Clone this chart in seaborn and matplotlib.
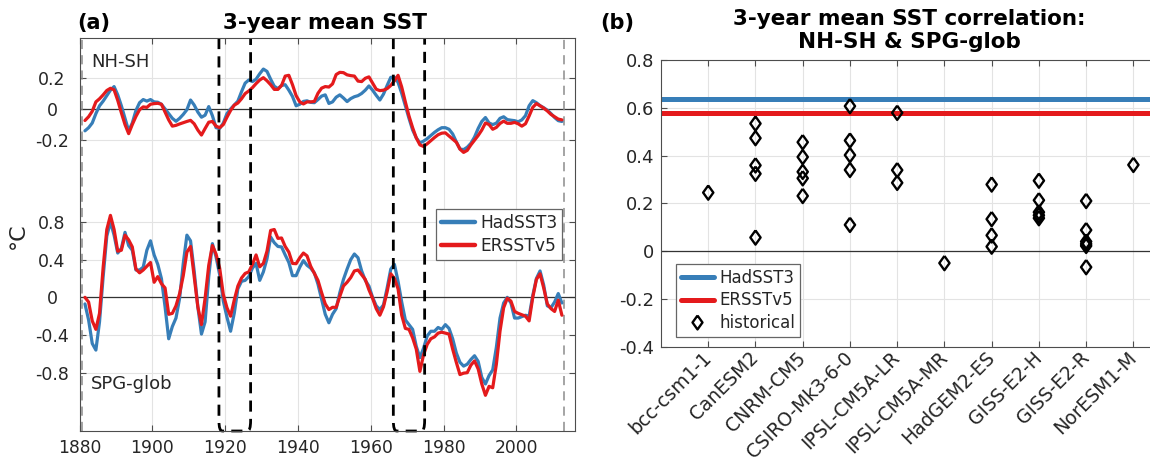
import numpy as np
import pandas as pd
import matplotlib
matplotlib.use("Agg")
import matplotlib.pyplot as plt
import seaborn as sns
from matplotlib.lines import Line2D
from matplotlib.path import Path
from matplotlib.patches import PathPatch

# ---------------- data ----------------
years = list(range(1881, 2013))  # annual (3-yr running mean), plotted at mid-year

nhsh_had = [-0.14, -0.12, -0.09, -0.03, 0.02, 0.05, 0.085, 0.12, 0.143, 0.09,
            0.02, -0.06, -0.14, -0.09, -0.01, 0.04, 0.06, 0.05, 0.06, 0.045,
            0.043, 0.03, 0.0, -0.03, -0.06, -0.079, -0.06, -0.035, -0.005, 0.057,
            0.025, -0.02, -0.053, -0.04, 0.015, -0.043, -0.12, -0.125, -0.09, -0.03,
            0.0, 0.025, 0.05, 0.11, 0.165, 0.185, 0.175, 0.19, 0.225, 0.255,
            0.24, 0.19, 0.145, 0.13, 0.15, 0.155, 0.12, 0.08, 0.02, 0.03,
            0.048, 0.052, 0.042, 0.04, 0.06, 0.082, 0.09, 0.035, 0.045, 0.075,
            0.09, 0.07, 0.047, 0.066, 0.078, 0.085, 0.099, 0.12, 0.147, 0.12,
            0.087, 0.057, 0.095, 0.15, 0.202, 0.202, 0.17, 0.10, 0.02, -0.06,
            -0.135, -0.185, -0.217, -0.206, -0.19, -0.17, -0.15, -0.133, -0.12, -0.12,
            -0.13, -0.16, -0.21, -0.256, -0.26, -0.245, -0.22, -0.18, -0.125, -0.08,
            -0.055, -0.09, -0.10, -0.091, -0.06, -0.05, -0.068, -0.072, -0.075, -0.082,
            -0.07, -0.043, 0.02, 0.053, 0.04, 0.021, 0.008, -0.008, -0.03, -0.055,
            -0.075, -0.08]

nhsh_ers = [-0.074, -0.05, -0.015, 0.045, 0.065, 0.09, 0.118, 0.132, 0.122, 0.055,
            -0.025, -0.10, -0.158, -0.10, -0.048, -0.005, 0.013, 0.01, 0.03, 0.034,
            0.036, 0.03, -0.02, -0.07, -0.11, -0.105, -0.096, -0.088, -0.08, -0.073,
            -0.095, -0.135, -0.167, -0.125, -0.085, -0.08, -0.11, -0.12, -0.10, -0.053,
            -0.01, 0.024, 0.038, 0.065, 0.098, 0.115, 0.136, 0.162, 0.185, 0.20,
            0.18, 0.155, 0.125, 0.125, 0.15, 0.21, 0.215, 0.155, 0.085, 0.045,
            0.032, 0.045, 0.045, 0.048, 0.10, 0.133, 0.143, 0.14, 0.16, 0.22,
            0.234, 0.232, 0.218, 0.213, 0.21, 0.178, 0.175, 0.196, 0.205, 0.165,
            0.126, 0.117, 0.12, 0.13, 0.15, 0.18, 0.215, 0.14, 0.045, -0.045,
            -0.12, -0.185, -0.23, -0.24, -0.223, -0.203, -0.183, -0.165, -0.155, -0.153,
            -0.173, -0.193, -0.213, -0.257, -0.278, -0.265, -0.23, -0.20, -0.17, -0.135,
            -0.09, -0.10, -0.13, -0.118, -0.093, -0.078, -0.092, -0.092, -0.086, -0.095,
            -0.11, -0.095, -0.045, 0.01, 0.034, 0.02, 0.005, -0.013, -0.035, -0.05,
            -0.065, -0.07]

spg_had = [-0.07, -0.24, -0.49, -0.56, -0.26, 0.22, 0.65, 0.80, 0.66, 0.47,
           0.52, 0.69, 0.55, 0.50, 0.29, 0.29, 0.32, 0.50, 0.60, 0.45,
           0.35, 0.20, -0.10, -0.44, -0.31, -0.22, -0.01, 0.36, 0.66, 0.60,
           0.28, -0.10, -0.39, -0.26, 0.22, 0.57, 0.43, 0.24, -0.04, -0.21,
           -0.36, -0.17, 0.09, 0.17, 0.18, 0.22, 0.31, 0.36, 0.18, 0.27,
           0.41, 0.64, 0.58, 0.54, 0.535, 0.45, 0.37, 0.23, 0.23, 0.32,
           0.39, 0.34, 0.31, 0.26, 0.14, -0.02, -0.18, -0.27, -0.18, -0.12,
           0.05, 0.19, 0.30, 0.40, 0.46, 0.42, 0.28, 0.18, 0.12, 0.0,
           -0.09, -0.13, -0.08, 0.10, 0.30, 0.35, 0.17, -0.05, -0.24, -0.29,
           -0.34, -0.52, -0.64, -0.54, -0.41, -0.36, -0.36, -0.32, -0.34, -0.29,
           -0.33, -0.44, -0.59, -0.69, -0.73, -0.71, -0.66, -0.62, -0.68, -0.85,
           -0.92, -0.83, -0.77, -0.53, -0.22, -0.06, 0.0, -0.06, -0.22, -0.22,
           -0.205, -0.19, -0.20, 0.02, 0.20, 0.28, 0.13, -0.09, -0.11, -0.05,
           0.04, -0.06]

spg_ers = [0.0, -0.05, -0.25, -0.34, -0.17, 0.32, 0.72, 0.87, 0.72, 0.49,
           0.50, 0.66, 0.61, 0.535, 0.30, 0.26, 0.29, 0.33, 0.37, 0.16,
           0.22, 0.145, 0.10, -0.18, -0.17, -0.09, 0.04, 0.23, 0.48, 0.54,
           0.22, -0.10, -0.29, -0.01, 0.34, 0.55, 0.46, 0.31, 0.03, -0.11,
           -0.20, -0.03, 0.12, 0.205, 0.254, 0.27, 0.35, 0.45, 0.324, 0.36,
           0.49, 0.71, 0.72, 0.626, 0.63, 0.54, 0.48, 0.36, 0.357, 0.42,
           0.47, 0.44, 0.33, 0.255, 0.18, 0.05, -0.07, -0.13, -0.106, -0.106,
           0.01, 0.12, 0.16, 0.21, 0.28, 0.29, 0.24, 0.19, 0.08, -0.01,
           -0.12, -0.19, -0.10, 0.06, 0.25, 0.20, 0.09, -0.19, -0.33, -0.34,
           -0.43, -0.55, -0.786, -0.61, -0.50, -0.44, -0.42, -0.38, -0.37, -0.38,
           -0.39, -0.55, -0.69, -0.82, -0.805, -0.80, -0.72, -0.675, -0.76, -0.92,
           -1.04, -0.945, -0.96, -0.71, -0.36, -0.11, -0.01, -0.04, -0.15, -0.17,
           -0.185, -0.20, -0.25, 0.0, 0.19, 0.25, 0.10, -0.07, -0.12, -0.15,
           -0.03, -0.19]

nhsh_tick_values = [0.2, 0.0, -0.2]
spg_tick_values = [0.8, 0.4, 0.0, -0.4, -0.8]
year_ticks = [1880, 1900, 1920, 1940, 1960, 1980, 2000]
frame_years = [1880.7, 2013.1]
windows = [(1918.3, 1927.0), (1966.2, 1974.8)]

models = ["bcc-csm1-1", "CanESM2", "CNRM-CM5", "CSIRO-Mk3-6-0", "IPSL-CM5A-LR",
          "IPSL-CM5A-MR", "HadGEM2-ES", "GISS-E2-H", "GISS-E2-R", "NorESM1-M"]
hist_bcc = [0.245]
hist_canesm = [0.534, 0.473, 0.359, 0.324, 0.057]
hist_cnrm = [0.456, 0.394, 0.332, 0.305, 0.231]
hist_csiro = [0.607, 0.463, 0.402, 0.340, 0.110]
hist_ipsl_lr = [0.579, 0.339, 0.286]
hist_ipsl_mr = [-0.05]
hist_hadgem = [0.279, 0.134, 0.066, 0.019]
hist_giss_h = [0.295, 0.213, 0.163, 0.150, 0.138]
hist_giss_r = [0.210, 0.088, 0.040, 0.030, 0.022, -0.067]
hist_noresm = [0.361]
had_corr = 0.636
ers_corr = 0.580
corr_ticks = [-0.4, -0.2, 0.0, 0.2, 0.4, 0.6, 0.8]

# ---------------- style ----------------
sns.set_theme(style="ticks")
plt.rcParams["font.family"] = ["DejaVu Sans"]
plt.rcParams["axes.unicode_minus"] = False

BLUE = "#377eb8"
RED = "#e41a1c"
TXT = "#262626"
SPINE = "#4d4d4d"
GRID = "#e3e3e3"
W, H = 1150, 462

fig = plt.figure(figsize=(W / 100, H / 100), dpi=100)

def fx(px):
    return px / W

def fy(py):
    return 1 - py / H

axA = fig.add_axes([fx(79.5), fy(431), fx(575 - 79.5), (431 - 38) / H])
axB = fig.add_axes([fx(661), fy(346.7), fx(1157 - 661), (346.7 - 60) / H])

# ---------------- panel (a) ----------------
UP_OFF, UP_SC = 2.0, 1.66
t = np.array(years) + 0.5
lw_series = 2.3
sns.lineplot(x=t, y=UP_OFF + UP_SC * np.array(nhsh_had), color=BLUE, lw=lw_series, ax=axA, zorder=3)
sns.lineplot(x=t, y=UP_OFF + UP_SC * np.array(nhsh_ers), color=RED, lw=lw_series, ax=axA, zorder=3)
sns.lineplot(x=t, y=np.array(spg_had), color=BLUE, lw=lw_series, ax=axA, zorder=3)
sns.lineplot(x=t, y=np.array(spg_ers), color=RED, lw=lw_series, ax=axA, zorder=3)

ylo, yhi = -1.419, 2.753
axA.set_xlim(1880, 2016.1)
axA.set_ylim(ylo, yhi)
axA.axhline(0, color="#333333", lw=0.9, zorder=2)
axA.axhline(UP_OFF, color="#333333", lw=0.9, zorder=2)
for fyr in frame_years:
    axA.axvline(fyr, color="#8c8c8c", lw=1.1, ls=(0, (6, 4)), zorder=2)

rx, ry = 0.9, 0.11
for x0, x1 in windows:
    verts = [(x0, yhi), (x0, ylo + ry), (x0, ylo), (x0 + rx, ylo),
             (x1 - rx, ylo), (x1, ylo), (x1, ylo + ry), (x1, yhi)]
    codes = [Path.MOVETO, Path.LINETO, Path.CURVE3, Path.CURVE3,
             Path.LINETO, Path.CURVE3, Path.CURVE3, Path.LINETO]
    axA.add_patch(PathPatch(Path(verts, codes), fill=False, edgecolor="black",
                            lw=2.0, ls=(0, (4, 2.6)), zorder=4, clip_on=False))

ytick_pos = [UP_OFF + UP_SC * v for v in nhsh_tick_values] + spg_tick_values
ytick_lab = [("%g" % v) for v in nhsh_tick_values] + [("%g" % v) for v in spg_tick_values]
axA.set_yticks(ytick_pos)
axA.set_yticklabels(ytick_lab)
for lab in axA.get_yticklabels():
    lab.set_horizontalalignment("center")
axA.set_xticks(year_ticks)
axA.set_xticklabels([str(y) for y in year_ticks])
axA.set_xlabel("")
axA.set_ylabel("")
axA.grid(True, color=GRID, lw=0.8, zorder=0)
axA.text(0.023, 0.939, "NH-SH", transform=axA.transAxes, fontsize=13, color=TXT, va="center", ha="left")
axA.text(0.023, 0.12, "SPG-glob", transform=axA.transAxes, fontsize=13, color=TXT, va="center", ha="left")

legA = axA.legend(handles=[Line2D([], [], color=BLUE, lw=3.2), Line2D([], [], color=RED, lw=3.2)],
                  labels=["HadSST3", "ERSSTv5"], loc="upper left",
                  bbox_to_anchor=(fx(435.7), fy(209.3)), bbox_transform=fig.transFigure,
                  borderaxespad=0, fontsize=12.3, handlelength=2.0, handletextpad=0.3,
                  borderpad=0.3, labelspacing=0.28, fancybox=False, framealpha=1)
legA.get_frame().set_edgecolor("#666666")
legA.get_frame().set_linewidth(0.9)

# ---------------- panel (b) ----------------
hist_lists = [hist_bcc, hist_canesm, hist_cnrm, hist_csiro, hist_ipsl_lr,
              hist_ipsl_mr, hist_hadgem, hist_giss_h, hist_giss_r, hist_noresm]
rows = []
for i, (m, vals) in enumerate(zip(models, hist_lists)):
    for v in vals:
        rows.append({"model_idx": i + 1, "model": m, "r": v})
dfh = pd.DataFrame(rows)

axB.axhline(0, color="#333333", lw=0.9, zorder=2)
axB.axhline(had_corr, color=BLUE, lw=3.6, zorder=3)
axB.axhline(ers_corr, color=RED, lw=3.6, zorder=3)

diamond = [(0, 1), (0.72, 0), (0, -1), (-0.72, 0), (0, 1)]
sns.scatterplot(data=dfh, x="model_idx", y="r", marker=diamond, s=105,
                facecolor="none", edgecolor="black", linewidth=1.7, ax=axB, zorder=5)

axB.set_xlim(0, 10.5)
axB.set_ylim(-0.4, 0.8)
axB.set_xticks(range(1, len(models) + 1))
axB.set_xticklabels(models, rotation=45, ha="right", va="center", rotation_mode="anchor")
axB.set_yticks(corr_ticks)
axB.set_yticklabels([("%g" % v) for v in corr_ticks])
axB.set_xlabel("")
axB.set_ylabel("")
axB.grid(True, color=GRID, lw=0.8, zorder=0)

legB = axB.legend(handles=[Line2D([], [], color=BLUE, lw=3.6),
                           Line2D([], [], color=RED, lw=3.6),
                           Line2D([], [], ls="", marker=diamond, mfc="none", mec="black", mew=1.7, ms=10)],
                  labels=["HadSST3", "ERSSTv5", "historical"], loc="upper left",
                  bbox_to_anchor=(fx(675.7), fy(264.3)), bbox_transform=fig.transFigure,
                  borderaxespad=0, fontsize=12, handlelength=2.0, handletextpad=0.3,
                  borderpad=0.3, labelspacing=0.25, fancybox=False, framealpha=1)
legB.get_frame().set_edgecolor("#666666")
legB.get_frame().set_linewidth(0.9)

# ---------------- common axes styling ----------------
for ax in (axA, axB):
    ax.tick_params(axis="both", which="both", direction="in", length=4, width=0.8,
                   top=True, right=True, colors=SPINE, labelcolor=TXT)
    for s in ax.spines.values():
        s.set_color(SPINE)
        s.set_linewidth(0.8)
        s.set_zorder(6)
axA.tick_params(axis="x", pad=6, labelsize=12.3)
axA.tick_params(axis="y", pad=19.8, labelsize=12.5)
axB.tick_params(axis="y", pad=5, labelsize=13)
axB.tick_params(axis="x", pad=6, labelsize=13.5)

# ---------------- titles & labels ----------------
fig.text(fx(18), fy(236), "\u00b0C", rotation=90, ha="center", va="center", fontsize=16, color=TXT)
fig.text(fx(77), fy(29), "(a)", ha="left", va="baseline", fontsize=15, fontweight="bold", color="black")
fig.text(fx(325), fy(29), "3-year mean SST", ha="center", va="baseline", fontsize=15.5,
         fontweight="bold", color="black")
fig.text(fx(600), fy(29), "(b)", ha="left", va="baseline", fontsize=15, fontweight="bold", color="black")
fig.text(fx(909), fy(25), "3-year mean SST correlation:", ha="center", va="baseline", fontsize=15.5,
         fontweight="bold", color="black")
fig.text(fx(909), fy(48), "NH-SH & SPG-glob", ha="center", va="baseline", fontsize=15.5,
         fontweight="bold", color="black")

fig.savefig("out.png", dpi=100)
